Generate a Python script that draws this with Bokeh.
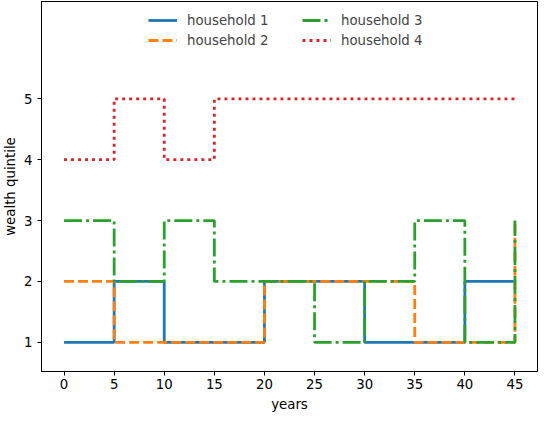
from bokeh.plotting import figure
from bokeh.models import FixedTicker, Range1d, Legend, LegendItem
from bokeh.embed import file_html
from bokeh.resources import INLINE

years = [0, 5, 10, 15, 20, 25, 30, 35, 40, 45]
household_1 = [1, 2, 1, 1, 2, 2, 1, 1, 2, 2]
household_2 = [2, 1, 1, 1, 2, 2, 2, 1, 1, 3]
household_3 = [3, 2, 3, 2, 2, 1, 2, 3, 1, 3]
household_4 = [4, 5, 4, 5, 5, 5, 5, 5, 5, 5]
names = ["household 1", "household 2", "household 3", "household 4"]
colors = ["#1f77b4", "#ff7f0e", "#2ca02c", "#d62728"]
dashes = ["solid", "10 4", "18 4 3 4", "3 4"]
x_ticks = [0, 5, 10, 15, 20, 25, 30, 35, 40, 45]
y_ticks = [1, 2, 3, 4, 5]

FONT = "DejaVu Sans"
FS = "13.3px"

p = figure(frame_width=496, frame_height=370, output_backend="svg", toolbar_location=None,
           x_range=Range1d(-2.25, 47.25), y_range=Range1d(0.52, 6.6),
           min_border_left=41, min_border_right=1, min_border_top=1, min_border_bottom=45)
p.xgrid.visible = False
p.ygrid.visible = False
p.outline_line_color = "black"
p.outline_line_width = 1

series = [household_1, household_2, household_3, household_4]
items = []
for name, ys, c, d in zip(names, series, colors, dashes):
    r = p.step(years, ys, mode="after", line_color=c, line_width=2.8, line_dash=d)
    items.append(LegendItem(label=name, renderers=[r]))

for ax in (p.xaxis[0], p.yaxis[0]):
    ax.axis_line_color = "black"
    ax.major_tick_line_color = "black"
    ax.major_tick_out = 4
    ax.major_tick_in = 0
    ax.minor_tick_line_color = None
    ax.major_label_text_font = FONT
    ax.major_label_text_font_size = FS
    ax.major_label_text_color = "black"
    ax.axis_label_text_font = FONT
    ax.axis_label_text_font_size = FS
    ax.axis_label_text_font_style = "normal"
    ax.axis_label_text_color = "black"

p.xaxis.ticker = FixedTicker(ticks=x_ticks)
p.yaxis.ticker = FixedTicker(ticks=y_ticks)
p.xaxis.axis_label = "years"
p.yaxis.axis_label = "wealth quintile"
p.xaxis.major_label_standoff = 3
p.xaxis.axis_label_standoff = 5
p.yaxis.major_label_standoff = 5
p.yaxis.axis_label_standoff = 3

legend = Legend(items=items, ncols=2, location=(98, 312), margin=0, padding=9,
                spacing=0, glyph_width=29, glyph_height=20, label_height=20,
                label_width=115, label_standoff=10,
                border_line_alpha=0, background_fill_alpha=0,
                label_text_font=FONT, label_text_font_size=FS)
p.add_layout(legend, "center")

open("out.html", "w").write(file_html(p, INLINE))
